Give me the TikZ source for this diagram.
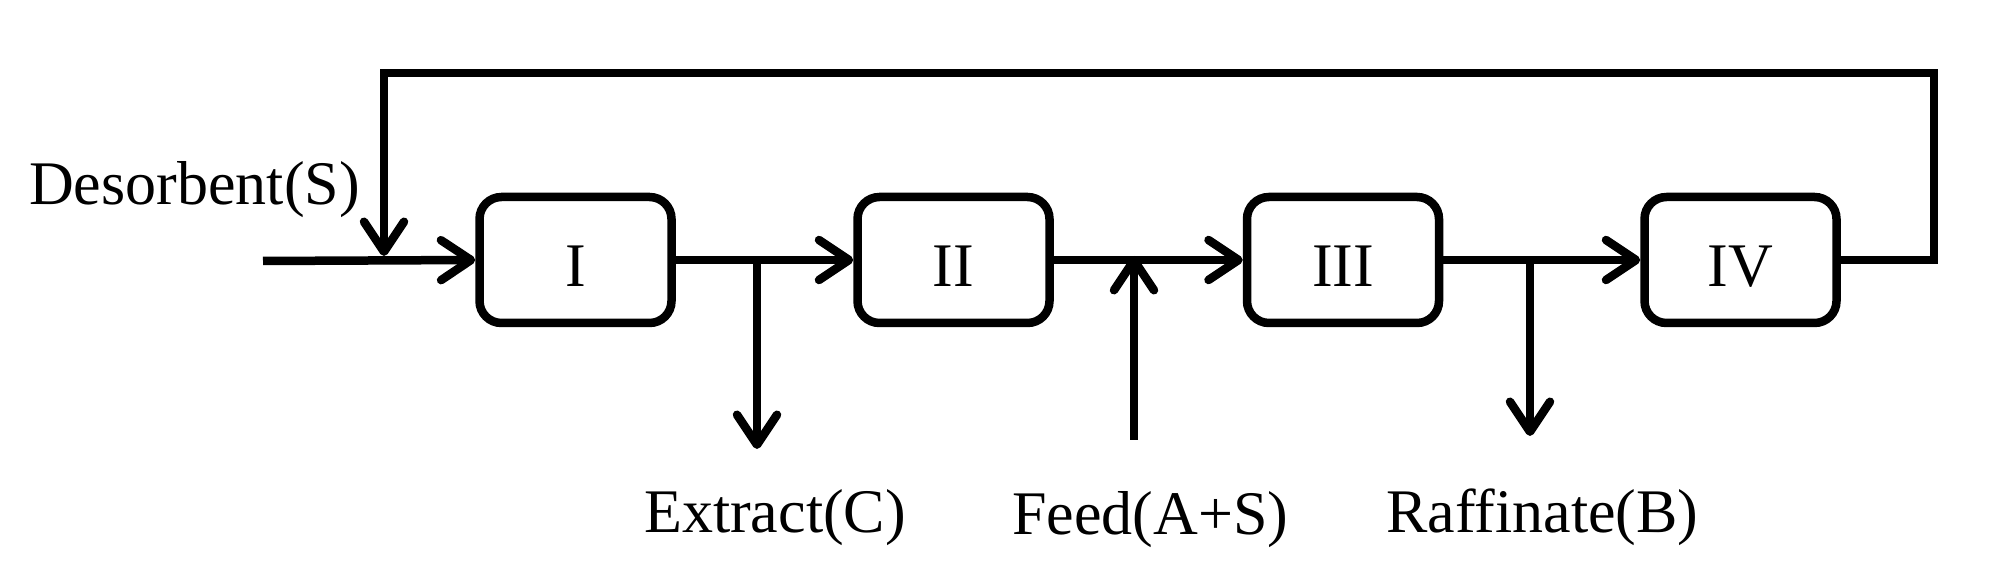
\documentclass[tikz,border=0pt]{standalone}
\usepackage{fontspec}
\setmainfont{Liberation Serif}
\usetikzlibrary{arrows.meta}
\begin{document}
\begin{tikzpicture}[x=1pt,y=1pt,
  zone/.style={draw, line width=8.5pt, rounded corners=22pt, minimum width=192pt, minimum height=126pt, inner sep=0pt, text height=54pt, text depth=0pt, font=\fontsize{62}{70}\selectfont},
  flow/.style={line width=8.5pt, line join=miter, -{Straight Barb[length=30pt,width=40pt,round]}},
  lbl/.style={inner sep=0pt, anchor=base west, font=\fontsize{62}{70}\selectfont}]
\useasboundingbox (0,0) rectangle (2013,570);
\node[zone] (I) at (575.5,310) {I};
\node[zone] (II) at (953.5,310) {II};
\node[zone] (III) at (1343,310) {III};
\node[zone] (IV) at (1740.5,310) {IV};
\coordinate (start) at (263,309);
\coordinate (dsin) at (384,314);
\coordinate (rc1) at (1934,310);
\coordinate (rc2) at (1934,497);
\coordinate (rc3) at (384,497);
\coordinate (exA) at (757,310);
\coordinate (exB) at (757,121);
\coordinate (fdA) at (1134,130);
\coordinate (fdB) at (1134,314);
\coordinate (raA) at (1530,310);
\coordinate (raB) at (1530,134);
\draw[flow] (start) -- (I.west);
\draw[flow] (I.east) -- (II.west);
\draw[flow] (II.east) -- (III.west);
\draw[flow] (III.east) -- (IV.west);
\draw[flow] (IV.east) -- (rc1) -- (rc2) -- (rc3) -- (dsin);
\draw[flow] (exA) -- (exB);
\draw[flow] (fdA) -- (fdB);
\draw[flow] (raA) -- (raB);
\node[lbl] (des) at (29,365) {Desorbent(S)};
\node[lbl] (ext) at (644,37) {Extract(C)};
\node[lbl] (feed) at (1012,35) {Feed(A+S)};
\node[lbl] (raf) at (1386,37) {Raffinate(B)};
\end{tikzpicture}
\end{document}
